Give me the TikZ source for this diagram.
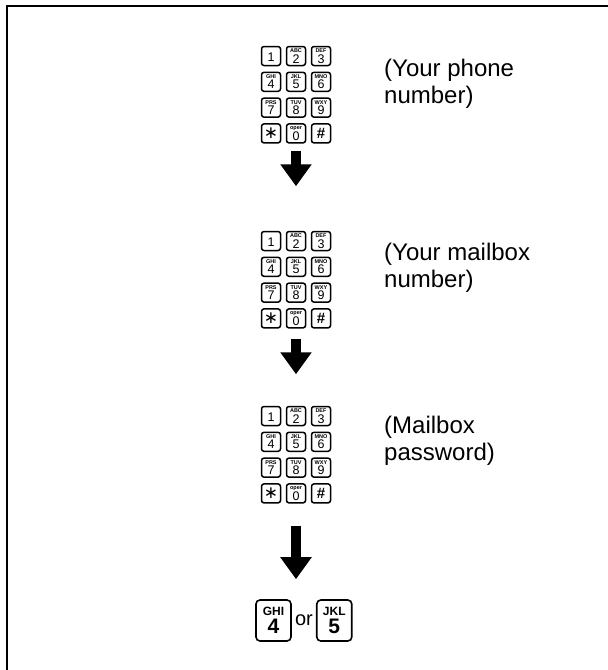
\documentclass[tikz,border=0pt]{standalone}
\usepackage{fontspec}
\setmainfont{Liberation Sans}
\newfontfamily\symfont{DejaVu Sans}
\usetikzlibrary{arrows.meta, positioning}

\tikzset{
  key/.style={draw, line width=1.5pt, rounded corners=2.5pt, minimum width=19pt, minimum height=19pt, inner sep=0pt, align=center},
  bigkey/.style={draw, line width=1.6pt, rounded corners=4pt, minimum width=35pt, minimum height=41pt, inner sep=0pt, align=center},
  downarrow/.style={line width=10pt, -{Triangle[width=30pt,length=22pt]}},
  note/.style={anchor=west, align=left, inner sep=0pt, font=\fontsize{24}{27}\selectfont}
}
\newcommand{\keytxt}[2]{{\fontsize{5.5}{5.5}\selectfont\bfseries #1}\\[-1.5pt]{\fontsize{12.5}{12.5}\selectfont #2}}
\newcommand{\bigkeytxt}[2]{{\fontsize{12}{12}\selectfont\bfseries #1}\\[3pt]{\fontsize{21}{21}\selectfont\bfseries #2}}

\begin{document}
\begin{tikzpicture}[x=1pt, y=1pt]
			\useasboundingbox (0,0) rectangle (608,-670);
			\draw[line width=2.5pt] (7,-670) |- (608,-6);
			% the three keypads
			\foreach \p/\top in {1/56, 2/241, 3/416} {
				\foreach \c/\r/\n/\t in {1/1/1/{\keytxt{}{1}}, 2/1/2/{\keytxt{ABC}{2}}, 3/1/3/{\keytxt{DEF}{3}},
					1/2/4/{\keytxt{GHI}{4}}, 2/2/5/{\keytxt{JKL}{5}}, 3/2/6/{\keytxt{MNO}{6}},
					1/3/7/{\keytxt{PRS}{7}}, 2/3/8/{\keytxt{TUV}{8}}, 3/3/9/{\keytxt{WXY}{9}},
					1/4/s/{\fontsize{17}{17}\selectfont\symfont ∗}, 2/4/0/{\keytxt{oper}{0}}, 3/4/h/{\fontsize{15}{15}\selectfont\bfseries\#}}
					\node[key] (k\p-\n) at ({271+25*(\c-1)}, {-\top-25.8*(\r-1)}) {\t};
			}
			\node[note] (lab1) at (384,-83.5) {(Your phone\\number)};
			\node[note] (lab2) at (384,-267.5) {(Your mailbox\\number)};
			\node[note] (lab3) at (384,-441) {(Mailbox\\password)};
			% the two keys at the end
			\node[bigkey] (ghi) at (273.5,-620.5) {\bigkeytxt{GHI}{4}};
			\node[right=2pt of ghi, inner sep=1pt, font=\fontsize{20}{20}\selectfont] (or) {or};
			\node[bigkey, right=2pt of or] (jkl) {\bigkeytxt{JKL}{5}};
			\draw[downarrow, shorten <=7.5pt, shorten >=44.5pt] (k1-0.south) -- (k2-2.north);
			\draw[downarrow, shorten <=10pt, shorten >=31.5pt] (k2-0.south) -- (k3-2.north);
			\draw[downarrow, shorten <=22pt, shorten >=20pt] (k3-0.south) -- (k3-0.south |- ghi.north);
		\end{tikzpicture}
\end{document}
